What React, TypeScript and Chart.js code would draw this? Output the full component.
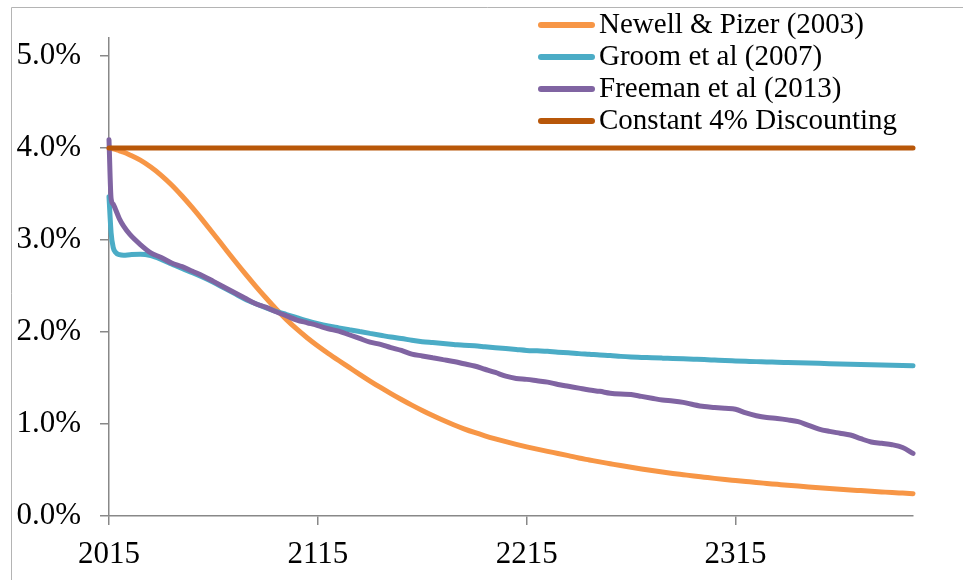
import React, { useEffect, useRef } from 'react';
import { Chart, registerables } from 'chart.js';

Chart.register(...registerables);

// ---- Data ----
const years = [
  2015, 2016, 2017, 2018, 2020, 2022, 2025, 2030, 2035, 2040, 2045, 2050, 2055, 2060, 2065, 2070,
  2075, 2080, 2085, 2090, 2095, 2100, 2105, 2110, 2115, 2120, 2125, 2130, 2135, 2140, 2145, 2150,
  2155, 2160, 2165, 2170, 2175, 2180, 2185, 2190, 2195, 2200, 2205, 2210, 2215, 2220, 2225, 2230,
  2235, 2240, 2245, 2250, 2255, 2260, 2265, 2270, 2275, 2280, 2285, 2290, 2295, 2300, 2305, 2310,
  2315, 2320, 2325, 2330, 2335, 2340, 2345, 2350, 2355, 2360, 2365, 2370, 2375, 2380, 2385, 2390,
  2395, 2400,
];

const newellPizer = [
  4.0, 3.997, 3.992, 3.986, 3.97, 3.955, 3.925, 3.868, 3.793, 3.703, 3.598, 3.478, 3.348, 3.21, 3.068, 2.924,
  2.78, 2.64, 2.505, 2.375, 2.25, 2.135, 2.03, 1.935, 1.848, 1.767, 1.69, 1.615, 1.54, 1.467, 1.397, 1.33,
  1.266, 1.205, 1.147, 1.092, 1.04, 0.992, 0.948, 0.908, 0.872, 0.839, 0.808, 0.779, 0.752, 0.727, 0.703, 0.68,
  0.656, 0.63, 0.609, 0.588, 0.568, 0.548, 0.529, 0.511, 0.494, 0.478, 0.463, 0.449, 0.435, 0.422, 0.409, 0.397,
  0.386, 0.375, 0.364, 0.354, 0.344, 0.334, 0.325, 0.316, 0.307, 0.299, 0.291, 0.283, 0.276, 0.269, 0.262, 0.255,
  0.249, 0.243,
];

const groomEtAl = [
  3.47, 3.08, 2.92, 2.87, 2.84, 2.835, 2.84, 2.845, 2.83, 2.79, 2.74, 2.69, 2.645, 2.595, 2.54, 2.48,
  2.42, 2.36, 2.31, 2.265, 2.225, 2.19, 2.155, 2.12, 2.09, 2.065, 2.045, 2.025, 2.005, 1.985, 1.965, 1.945,
  1.93, 1.91, 1.895, 1.885, 1.875, 1.865, 1.855, 1.85, 1.84, 1.83, 1.82, 1.81, 1.8, 1.795, 1.79, 1.78,
  1.775, 1.765, 1.758, 1.75, 1.745, 1.735, 1.728, 1.724, 1.72, 1.716, 1.712, 1.708, 1.704, 1.7, 1.695, 1.69,
  1.686, 1.682, 1.678, 1.675, 1.671, 1.668, 1.665, 1.662, 1.659, 1.656, 1.653, 1.65, 1.647, 1.644, 1.641, 1.638,
  1.635, 1.632,
];

const freemanEtAl = [
  4.09, 3.45, 3.39, 3.34, 3.23, 3.15, 3.06, 2.95, 2.86, 2.81, 2.75, 2.71, 2.66, 2.61, 2.55, 2.49,
  2.43, 2.37, 2.31, 2.27, 2.22, 2.175, 2.13, 2.1, 2.07, 2.035, 2.01, 1.97, 1.93, 1.89, 1.865, 1.83,
  1.8, 1.76, 1.74, 1.72, 1.7, 1.68, 1.655, 1.63, 1.595, 1.56, 1.52, 1.495, 1.485, 1.47, 1.455, 1.43,
  1.41, 1.39, 1.37, 1.355, 1.335, 1.325, 1.32, 1.3, 1.28, 1.26, 1.25, 1.235, 1.21, 1.19, 1.18, 1.17,
  1.16, 1.12, 1.09, 1.07, 1.06, 1.045, 1.025, 0.985, 0.945, 0.92, 0.9, 0.88, 0.84, 0.805, 0.79, 0.775,
  0.745, 0.68,
];

const constantYears = [2015, 2400];
const constantRate = [4.0, 4.0];

const seriesLabels = [
  'Newell & Pizer (2003)',
  'Groom et al (2007)',
  'Freeman et al (2013)',
  'Constant 4% Discounting',
];
const seriesColors = ['#F79646', '#4BACC6', '#8064A2', '#B85709'];

const xTickYears = [2015, 2115, 2215, 2315];
const yTickValues = [0, 1, 2, 3, 4, 5];

const FONT = "'Liberation Serif', 'Times New Roman', Times, serif";

export default function App() {
  const ref = useRef<HTMLCanvasElement>(null);

  useEffect(() => {
    document.body.style.margin = '0';
    const canvas = ref.current;
    if (!canvas) return;

    const toPoints = (xs: number[], ys: number[]) => xs.map((x, i) => ({ x, y: ys[i] }));

    const framePlugin = {
      id: 'frame',
      beforeDraw(chart: any) {
        const ctx = chart.ctx;
        ctx.save();
        ctx.fillStyle = '#ffffff';
        ctx.fillRect(0, 0, chart.width, chart.height);
        ctx.strokeStyle = '#b4b4b4';
        ctx.lineWidth = 1;
        ctx.beginPath();
        ctx.moveTo(11.5, chart.height);
        ctx.lineTo(11.5, 7.5);
        ctx.lineTo(chart.width, 7.5);
        ctx.stroke();
        ctx.restore();
      },
    };

    const legendPlugin = {
      id: 'sideLegend',
      afterDraw(chart: any) {
        const ctx = chart.ctx;
        ctx.save();
        seriesLabels.forEach((label, i) => {
          const cy = 25 + 32 * i;
          ctx.strokeStyle = seriesColors[i];
          ctx.lineWidth = 6;
          ctx.lineCap = 'round';
          ctx.beginPath();
          ctx.moveTo(541, cy);
          ctx.lineTo(592, cy);
          ctx.stroke();
          ctx.fillStyle = '#000000';
          ctx.font = `29px ${FONT}`;
          ctx.textAlign = 'left';
          ctx.textBaseline = 'alphabetic';
          ctx.fillText(label, 599, cy + 8);
        });
        ctx.restore();
      },
    };

    const lineDs = (label: string, color: string, data: any[], order: number) => ({
      label,
      data,
      borderColor: color,
      backgroundColor: color,
      borderWidth: 5,
      borderCapStyle: 'round',
      borderJoinStyle: 'round',
      pointRadius: 0,
      fill: false,
      cubicInterpolationMode: 'monotone',
      clip: false,
      order,
    });

    const chart = new Chart(canvas, {
      type: 'line',
      data: {
        datasets: [
          lineDs(seriesLabels[0], seriesColors[0], toPoints(years, newellPizer), 4),
          lineDs(seriesLabels[1], seriesColors[1], toPoints(years, groomEtAl), 3),
          lineDs(seriesLabels[2], seriesColors[2], toPoints(years, freemanEtAl), 2),
          lineDs(seriesLabels[3], seriesColors[3], toPoints(constantYears, constantRate), 1),
        ] as any,
      },
      options: {
        responsive: false,
        maintainAspectRatio: false,
        animation: false,
        devicePixelRatio: 1,
        layout: { padding: { left: 0, top: 36, right: 50, bottom: 0 } },
        plugins: {
          legend: { display: false },
          tooltip: { enabled: false },
        },
        scales: {
          x: {
            type: 'linear',
            min: 2015,
            max: 2400,
            afterBuildTicks: (s: any) => {
              s.ticks = xTickYears.map((v) => ({ value: v }));
            },
            afterFit: (s: any) => {
              s.height = 64;
            },
            ticks: {
              autoSkip: false,
              maxRotation: 0,
              padding: 11,
              color: '#000000',
              font: { family: FONT, size: 31 },
              callback: (v: any) => String(v),
            },
            grid: {
              drawOnChartArea: false,
              drawTicks: true,
              tickLength: 9,
              color: '#888888',
              lineWidth: 1.5,
            },
            border: { display: true, color: '#888888', width: 1.5 },
          },
          y: {
            type: 'linear',
            min: 0,
            max: 5.2,
            afterBuildTicks: (s: any) => {
              s.ticks = yTickValues.map((v) => ({ value: v }));
            },
            afterFit: (s: any) => {
              s.width = 109;
            },
            ticks: {
              padding: 19,
              color: '#000000',
              font: { family: FONT, size: 31 },
              callback: (v: any) => Number(v).toFixed(1) + '%',
            },
            grid: {
              drawOnChartArea: false,
              drawTicks: true,
              tickLength: 9,
              color: '#888888',
              lineWidth: 1.5,
            },
            border: { display: true, color: '#888888', width: 1.5 },
          },
        },
      } as any,
      plugins: [framePlugin, legendPlugin],
    });

    return () => {
      chart.destroy();
    };
  }, []);

  return (
    <div style={{ width: 963, height: 580 }}>
      <canvas ref={ref} width={963} height={580} style={{ display: 'block', width: 963, height: 580 }} />
    </div>
  );
}
